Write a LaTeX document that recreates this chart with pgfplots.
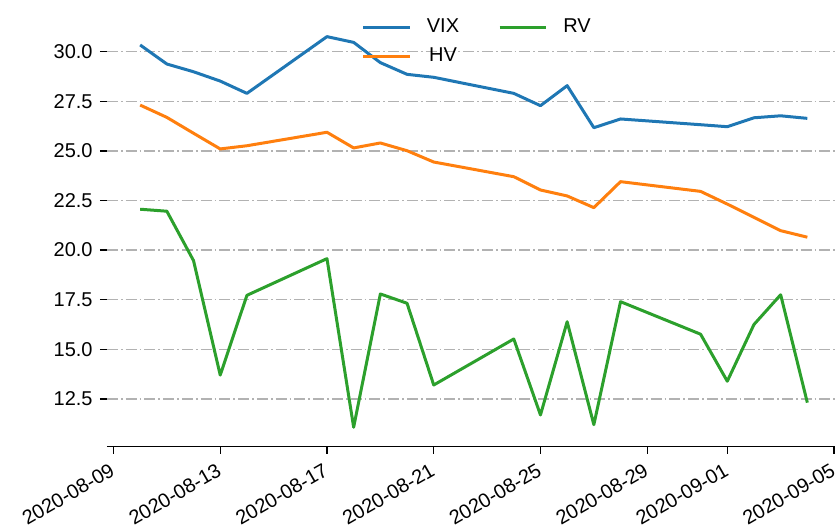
\documentclass[border=0pt]{standalone}
\usepackage{pgfplots}
\pgfplotsset{compat=1.18}
\usepackage{fontspec}
\setmainfont{Liberation Sans}
\definecolor{cvix}{HTML}{1F77B4}
\definecolor{chv}{HTML}{FF7F0E}
\definecolor{crv}{HTML}{2CA02C}
\newcommand{\tf}{\fontsize{20bp}{24bp}\selectfont}
\begin{document}
\tf
\begin{tikzpicture}
\begin{axis}[
  at={(0,0)}, anchor=south west,
  scale only axis, width=733.9bp, height=429.5bp,
  xmin=8.75, xmax=36.25, ymin=10.09, ymax=31.74,
  axis x line*=bottom, axis y line*=left,
  y axis line style={draw=none},
  x axis line style={line width=1.3bp, black, -},
  tick align=outside, major tick length=7bp,
  every tick/.style={black, line width=1.3bp},
  xtick={9,13,17,21,25,29,32,36},
  xticklabels={2020-08-09,2020-08-13,2020-08-17,2020-08-21,2020-08-25,2020-08-29,2020-09-01,2020-09-05},
  ytick={12.5,15,17.5,20,22.5,25,27.5,30},
  yticklabels={12.5,15.0,17.5,20.0,22.5,25.0,27.5,30.0},
  tick label style={font=\tf},
  xticklabel style={xshift=-4.5bp, yshift=-8.6bp, rotate=30, anchor=north east, inner sep=0pt},
  yticklabel style={xshift=-7bp, anchor=east, inner sep=0pt},
  ymajorgrids,
  major grid style={black!30, line width=1.5bp, dash pattern=on 11bp off 3bp on 1.75bp off 3bp},
  legend columns=2,
  legend image code/.code={\draw[#1] (0bp,0bp) -- (46.5bp,0bp);},
  legend style={draw=none, fill=none, at={(0.3473,0.9974)}, anchor=north west,
    inner sep=0pt, outer sep=0pt, row sep=11bp, font=\tf,
    nodes={inner sep=0pt, text height=14bp, text depth=4bp},
    /tikz/every odd column/.append style={column sep=15.7bp},
    /tikz/every even column/.append style={column sep=39bp}},
  every axis plot/.append style={line width=3bp, line join=round},
]
\addplot[cvix, forget plot] coordinates {(10,30.34)(11,29.38)(12,28.99)(13,28.52)(14,27.90)(17,30.76)(18,30.47)(19,29.45)(20,28.86)(21,28.71)(24,27.90)(25,27.28)(26,28.29)(27,26.17)(28,26.61)(31,26.32)(32,26.22)(33,26.67)(34,26.77)(35,26.64)};
\addplot[chv, forget plot] coordinates {(10,27.31)(11,26.69)(12,25.89)(13,25.10)(14,25.26)(17,25.94)(18,25.15)(19,25.40)(20,25.01)(21,24.44)(24,23.70)(25,23.03)(26,22.73)(27,22.14)(28,23.45)(31,22.96)(32,22.32)(33,21.65)(34,20.98)(35,20.65)};
\addplot[crv, forget plot] coordinates {(10,22.06)(11,21.96)(12,19.47)(13,13.70)(14,17.72)(17,19.57)(18,11.07)(19,17.79)(20,17.32)(21,13.20)(24,15.52)(25,11.69)(26,16.39)(27,11.20)(28,17.40)(31,15.76)(32,13.39)(33,16.25)(34,17.75)(35,12.31)};
\addlegendimage{cvix, line width=3bp}
\addlegendentry{VIX}
\addlegendimage{crv, line width=3bp}
\addlegendentry{RV}
\addlegendimage{chv, line width=3bp}
\addlegendentry{HV}
\end{axis}
\pgfresetboundingbox
\useasboundingbox (-106.8bp,-85.3bp) rectangle (728.2bp,446.7bp);
\end{tikzpicture}
\end{document}
